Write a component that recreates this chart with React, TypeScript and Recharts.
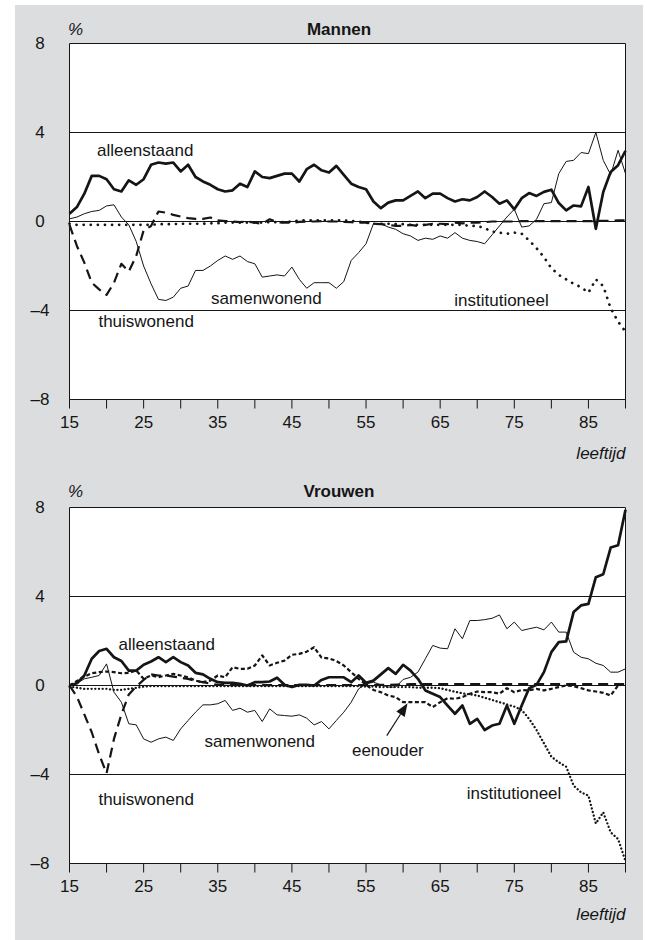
import React from 'react';
import { LineChart, Line, XAxis, YAxis, ReferenceLine, ReferenceDot, CartesianGrid } from 'recharts';

const FONT = '"Liberation Sans", Arial, Helvetica, sans-serif';
const INK = '#151515';
const GRAY = '#dcdddf';

// ---------- data ----------
const ages = [
  15, 16, 17, 18, 19, 20, 21, 22, 23, 24,
  25, 26, 27, 28, 29, 30, 31, 32, 33, 34,
  35, 36, 37, 38, 39, 40, 41, 42, 43, 44,
  45, 46, 47, 48, 49, 50, 51, 52, 53, 54,
  55, 56, 57, 58, 59, 60, 61, 62, 63, 64,
  65, 66, 67, 68, 69, 70, 71, 72, 73, 74,
  75, 76, 77, 78, 79, 80, 81, 82, 83, 84,
  85, 86, 87, 88, 89, 90,
];
const xTicks = [15, 20, 25, 30, 35, 40, 45, 50, 55, 60, 65, 70, 75, 80, 85, 90];
const xTickLabels = [15, 25, 35, 45, 55, 65, 75, 85];
const yTicks = [-8, -4, 0, 4, 8];

// Mannen
const menAlleenstaand = [
  0.35, 0.65, 1.25, 2.05, 2.05, 1.9, 1.45, 1.35, 1.85, 1.65,
  1.9, 2.55, 2.65, 2.6, 2.65, 2.25, 2.55, 2.0, 1.8, 1.65,
  1.45, 1.35, 1.4, 1.7, 1.55, 2.25, 2.0, 1.95, 2.05, 2.15,
  2.15, 1.8, 2.35, 2.55, 2.3, 2.2, 2.5, 2.1, 1.7, 1.55,
  1.45, 0.9, 0.6, 0.85, 0.95, 0.95, 1.15, 1.35, 1.05, 1.25,
  1.25, 1.05, 0.9, 1.0, 0.95, 1.1, 1.35, 1.1, 0.8, 0.95,
  0.55, 1.05, 1.28, 1.15, 1.33, 1.43, 0.83, 0.5, 0.72, 0.68,
  1.55, -0.33, 1.33, 2.23, 2.53, 3.18,
];
const menSamenwonend = [
  0.12, 0.2, 0.35, 0.45, 0.5, 0.7, 0.75, 0.2, -0.15, -0.9,
  -2.0, -2.8, -3.5, -3.55, -3.4, -3.0, -2.9, -2.2, -2.2, -2.0,
  -1.75, -1.55, -1.7, -1.55, -1.8, -1.9, -2.5, -2.45, -2.4, -2.45,
  -2.05, -2.6, -3.0, -2.75, -2.75, -2.75, -3.0, -2.7, -1.75, -1.4,
  -1.0, -0.1, -0.1, -0.25, -0.35, -0.55, -0.65, -0.85, -0.75, -0.8,
  -0.65, -0.75, -0.5, -0.75, -0.85, -0.9, -1.0, -0.6, -0.2, 0.2,
  0.55, -0.25, -0.2, 0.1, 0.8, 0.85, 2.15, 2.7, 2.75, 3.1,
  3.05, 4.0, 2.75, 2.1, 3.2, 2.15,
];
const menThuiswonend = [
  -0.15, -1.1, -1.85, -2.75, -3.05, -3.3, -2.75, -1.9, -2.25, -1.55,
  -0.4, -0.2, 0.45, 0.4, 0.3, 0.22, 0.15, 0.12, 0.12, 0.18,
  0.05, 0.02, 0.0, -0.03, 0.0, -0.05, -0.1, 0.1, -0.03, -0.05,
  -0.05, -0.02, 0.0, 0.0, 0.02, 0.0, 0.0, -0.02, -0.03, -0.05,
  -0.05, -0.1, -0.12, -0.15, -0.2, -0.2, -0.15, -0.2, -0.15, -0.1,
  -0.1, -0.12, -0.05, -0.08, -0.05, -0.05, -0.03, 0.0, 0.0, 0.0,
  0.0, 0.02, 0.02, 0.02, 0.02, 0.02, 0.02, 0.02, 0.02, 0.02,
  0.02, 0.02, 0.03, 0.03, 0.05, 0.05,
];
const menInstitutioneel = [
  -0.1, -0.15, -0.15, -0.15, -0.15, -0.15, -0.15, -0.15, -0.15, -0.15,
  -0.15, -0.15, -0.12, -0.12, -0.12, -0.1, -0.1, -0.1, -0.1, -0.08,
  -0.08, -0.05, -0.05, -0.05, -0.05, -0.05, -0.05, -0.03, -0.03, -0.03,
  0.0, 0.05, 0.05, 0.05, 0.05, 0.05, 0.05, 0.05, 0.03, 0.0,
  -0.05, -0.1, -0.1, -0.1, -0.12, -0.12, -0.15, -0.15, -0.15, -0.15,
  -0.15, -0.15, -0.15, -0.15, -0.2, -0.2, -0.3, -0.45, -0.5, -0.55,
  -0.5, -0.55, -0.85, -1.2, -1.6, -2.1, -2.4, -2.6, -2.8, -2.95,
  -3.2, -2.6, -2.9, -3.9, -4.5, -4.95,
];

// Vrouwen
const womenAlleenstaand = [
  0.0, 0.1, 0.45, 1.2, 1.55, 1.65, 1.27, 1.1, 0.67, 0.67,
  0.93, 1.08, 1.27, 1.05, 1.27, 1.05, 0.9, 0.57, 0.5, 0.3,
  0.15, 0.12, 0.12, 0.07, 0.0, 0.15, 0.15, 0.18, 0.35, 0.03,
  -0.07, 0.03, 0.03, 0.0, 0.25, 0.37, 0.37, 0.37, 0.15, 0.45,
  0.12, 0.22, 0.5, 0.78, 0.52, 0.93, 0.67, 0.3, -0.22, -0.37,
  -0.52, -0.9, -1.27, -0.9, -1.72, -1.5, -2.0, -1.8, -1.72, -0.9,
  -1.72, -0.9, -0.12, 0.03, 0.6, 1.5, 1.95, 1.98, 3.3, 3.6,
  3.67, 4.87, 5.0, 6.2, 6.3, 7.9,
];
const womenSamenwonend = [
  0.0, 0.1, 0.3, 0.37, 0.45, 0.97, -0.3, -0.75, -1.72, -1.77,
  -2.4, -2.55, -2.4, -2.32, -2.47, -1.95, -1.57, -1.2, -0.87, -0.87,
  -0.82, -0.67, -1.12, -1.02, -1.2, -1.12, -1.62, -1.05, -1.32, -1.35,
  -1.38, -1.32, -1.47, -1.77, -1.62, -1.95, -1.57, -1.2, -0.75, -0.15,
  0.07, 0.15, 0.03, -0.07, -0.07, 0.27, 0.37, 0.6, 1.2, 1.8,
  1.68, 1.65, 2.55, 2.1, 2.92, 2.92, 2.96, 3.02, 3.17, 2.55,
  2.85, 2.47, 2.55, 2.62, 2.5, 2.85, 2.4, 2.4, 1.5, 1.27,
  1.2, 1.0, 0.9, 0.6, 0.6, 0.75,
];
const womenThuiswonend = [
  0.0, -0.5, -1.3, -2.1, -3.1, -3.95, -2.4, -1.3, -0.4, -0.05,
  0.25, 0.5, 0.45, 0.45, 0.4, 0.35, 0.3, 0.2, 0.15, 0.08,
  0.03, 0.02, 0.02, 0.02, 0.02, 0.02, 0.02, 0.02, 0.02, 0.02,
  0.02, 0.02, 0.02, 0.02, 0.02, 0.02, 0.02, 0.02, 0.02, 0.02,
  0.02, 0.02, 0.03, 0.03, 0.04, 0.05, 0.06, 0.06, 0.06, 0.06,
  0.06, 0.06, 0.06, 0.06, 0.06, 0.06, 0.06, 0.06, 0.06, 0.06,
  0.06, 0.06, 0.06, 0.06, 0.06, 0.06, 0.06, 0.06, 0.06, 0.06,
  0.06, 0.06, 0.06, 0.06, 0.06, 0.06,
];
const womenEenouder = [
  0.0, 0.2, 0.4, 0.55, 0.6, 0.63, 0.6, 0.55, 0.57, 0.67,
  0.3, 0.45, 0.37, 0.45, 0.52, 0.45, 0.37, 0.22, 0.15, 0.22,
  0.45, 0.37, 0.82, 0.75, 0.75, 0.9, 1.35, 0.9, 1.02, 1.12,
  1.38, 1.42, 1.52, 1.72, 1.25, 1.22, 1.1, 0.9, 0.6, 0.3,
  0.03, -0.2, -0.3, -0.45, -0.52, -0.75, -0.75, -0.75, -0.75, -0.97,
  -0.75, -0.57, -0.6, -0.52, -0.37, -0.27, -0.3, -0.3, -0.37, -0.12,
  -0.3, -0.2, -0.22, -0.15, -0.22, -0.15, -0.07, 0.0, -0.03, -0.12,
  -0.22, -0.27, -0.33, -0.45, 0.0, 0.07,
];
const womenInstitutioneel = [
  -0.05, -0.1, -0.15, -0.15, -0.15, -0.15, -0.2, -0.2, -0.15, -0.1,
  -0.05, -0.03, -0.03, -0.03, -0.03, -0.03, -0.03, -0.03, -0.03, -0.03,
  -0.03, -0.03, -0.03, -0.03, -0.03, -0.03, -0.03, -0.03, -0.03, -0.03,
  -0.03, -0.03, -0.03, -0.03, -0.03, -0.03, -0.03, -0.03, -0.03, -0.03,
  -0.05, -0.05, -0.07, -0.07, -0.07, -0.07, -0.07, -0.1, -0.1, -0.1,
  -0.12, -0.2, -0.28, -0.35, -0.4, -0.45, -0.55, -0.65, -0.75, -0.85,
  -0.95, -1.1, -1.5, -2.0, -2.6, -3.2, -3.45, -3.65, -4.5, -4.8,
  -4.95, -6.2, -5.7, -6.6, -6.9, -7.9,
];

// series label anchors (age, value)
const menLabels = [
  { text: 'alleenstaand', age: 18.7, value: 3.2 },
  { text: 'samenwonend', age: 34.1, value: -3.48 },
  { text: 'thuiswonend', age: 18.9, value: -4.48 },
  { text: 'institutioneel', age: 66.9, value: -3.57 },
];
const womenLabels = [
  { text: 'alleenstaand', age: 21.6, value: 1.84 },
  { text: 'samenwonend', age: 33.2, value: -2.52 },
  { text: 'thuiswonend', age: 18.9, value: -5.12 },
  { text: 'eenouder', age: 53.1, value: -2.92 },
  { text: 'institutioneel', age: 68.6, value: -4.85 },
];
const eenouderArrow = [
  { age: 57.8, value: -2.25 },
  { age: 60.6, value: -0.8 },
];

// ---------- build tables ----------
const menData = ages.map((age, i) => ({
  age,
  alleenstaand: menAlleenstaand[i],
  samenwonend: menSamenwonend[i],
  thuiswonend: menThuiswonend[i],
  institutioneel: menInstitutioneel[i],
}));
const womenData = ages.map((age, i) => ({
  age,
  alleenstaand: womenAlleenstaand[i],
  samenwonend: womenSamenwonend[i],
  thuiswonend: womenThuiswonend[i],
  eenouder: womenEenouder[i],
  institutioneel: womenInstitutioneel[i],
}));

type SeriesStyle = { key: string; width: number; dash?: string; cap?: 'round' | 'butt' };
const menSeries: SeriesStyle[] = [
  { key: 'samenwonend', width: 1 },
  { key: 'thuiswonend', width: 2.2, dash: '10 6' },
  { key: 'institutioneel', width: 2.7, dash: '0.1 7', cap: 'round' },
  { key: 'alleenstaand', width: 2.7 },
];
const womenSeries: SeriesStyle[] = [
  { key: 'samenwonend', width: 1 },
  { key: 'thuiswonend', width: 2.2, dash: '10 6' },
  { key: 'eenouder', width: 2.2, dash: '4 2.5' },
  { key: 'institutioneel', width: 2.3, dash: '0.1 3.6', cap: 'round' },
  { key: 'alleenstaand', width: 2.7 },
];

const fmtY = (v: number) => (v < 0 ? '\u2013' + Math.abs(v) : String(v));

const YTick = (p: any) => (
  <text
    x={p.x - 29.5}
    y={p.y}
    textAnchor="middle"
    dominantBaseline="central"
    fontSize={17}
    fill={INK}
    fontFamily={FONT}
  >
    {fmtY(p.payload.value)}
  </text>
);

const ArrowShape = (p: any) => {
  const x1 = Number(p.x1), y1 = Number(p.y1), x2 = Number(p.x2), y2 = Number(p.y2);
  const dx = x2 - x1, dy = y2 - y1;
  const len = Math.hypot(dx, dy) || 1;
  const ux = dx / len, uy = dy / len;
  const head = 13, half = 5;
  const bx = x2 - ux * head, by = y2 - uy * head;
  const px = -uy, py = ux;
  return (
    <g>
      <line x1={x1} y1={y1} x2={bx} y2={by} stroke={INK} strokeWidth={1.2} />
      <polygon
        points={`${x2},${y2} ${bx + px * half},${by + py * half} ${bx - px * half},${by - py * half}`}
        fill={INK}
      />
    </g>
  );
};

type PanelProps = {
  top: number;
  title: string;
  titleY: number;
  leeftijdY: number;
  data: any[];
  series: SeriesStyle[];
  labels: { text: string; age: number; value: number }[];
  arrow?: { age: number; value: number }[];
};

function Panel({ top, title, titleY, leeftijdY, data, series, labels, arrow }: PanelProps) {
  const textStyle: React.CSSProperties = {
    position: 'absolute',
    fontSize: 17,
    lineHeight: '20px',
    color: INK,
    fontFamily: FONT,
    whiteSpace: 'nowrap',
  };
  return (
    <div style={{ position: 'absolute', left: 0, top, width: 647, height: 470 }}>
      <LineChart
        width={647}
        height={470}
        data={data}
        margin={{ top: 43.5, right: 21.5, bottom: 40.5, left: 15 }}
        style={{ fontFamily: FONT }}
      >
        <CartesianGrid vertical={false} stroke={INK} strokeWidth={1} fill="#ffffff" fillOpacity={1} />
        <XAxis
          dataKey="age"
          type="number"
          domain={[15, 90]}
          ticks={xTicks}
          interval={0}
          height={30}
          tickSize={9}
          tickMargin={7}
          axisLine={{ stroke: INK, strokeWidth: 1 }}
          tickLine={{ stroke: INK, strokeWidth: 1 }}
          tick={{ fill: INK, fontSize: 17, fontFamily: FONT }}
          tickFormatter={(v: number) => (xTickLabels.includes(v) ? String(v) : '')}
        />
        <YAxis
          type="number"
          domain={[-8, 8]}
          ticks={yTicks}
          interval={0}
          width={54.5}
          tickSize={0}
          tickMargin={0}
          tickLine={false}
          allowDataOverflow
          axisLine={{ stroke: INK, strokeWidth: 1 }}
          tick={<YTick />}
        />
        <ReferenceLine x={90} stroke={INK} strokeWidth={1} />
        {series.map((s) => (
          <Line
            key={s.key}
            dataKey={s.key}
            type="linear"
            stroke={INK}
            strokeWidth={s.width}
            strokeDasharray={s.dash}
            strokeLinecap={s.cap || 'butt'}
            strokeLinejoin="round"
            dot={false}
            activeDot={false}
            isAnimationActive={false}
          />
        ))}
        {labels.map((l) => (
          <ReferenceDot
            key={l.text}
            x={l.age}
            y={l.value}
            r={0}
            shape={(p: any) => (
              <text
                x={p.cx}
                y={p.cy}
                dominantBaseline="central"
                fontSize={17}
                fill={INK}
                fontFamily={FONT}
              >
                {l.text}
              </text>
            )}
          />
        ))}
        {arrow && (
          <ReferenceLine
            segment={[
              { x: arrow[0].age, y: arrow[0].value },
              { x: arrow[1].age, y: arrow[1].value },
            ]}
            shape={ArrowShape}
          />
        )}
      </LineChart>
      <div style={{ ...textStyle, left: 68, top: titleY - 10, fontStyle: 'italic' }}>%</div>
      <div
        style={{ ...textStyle, left: 239, width: 200, textAlign: 'center', top: titleY - 10, fontWeight: 'bold' }}
      >
        {title}
      </div>
      <div style={{ ...textStyle, right: 21.5, top: leeftijdY - 10, fontStyle: 'italic' }}>leeftijd</div>
    </div>
  );
}

export default function App() {
  return (
    <div
      style={{
        position: 'absolute',
        left: 0,
        top: 0,
        width: 647,
        height: 940,
        overflow: 'hidden',
        background: '#ffffff',
        fontFamily: FONT,
      }}
    >
      <div style={{ position: 'absolute', left: 15, top: 5, width: 628, height: 935, background: GRAY }} />
      <Panel
        top={0}
        title="Mannen"
        titleY={30}
        leeftijdY={454}
        data={menData}
        series={menSeries}
        labels={menLabels}
      />
      <Panel
        top={464}
        title="Vrouwen"
        titleY={28}
        leeftijdY={451}
        data={womenData}
        series={womenSeries}
        labels={womenLabels}
        arrow={eenouderArrow}
      />
    </div>
  );
}
